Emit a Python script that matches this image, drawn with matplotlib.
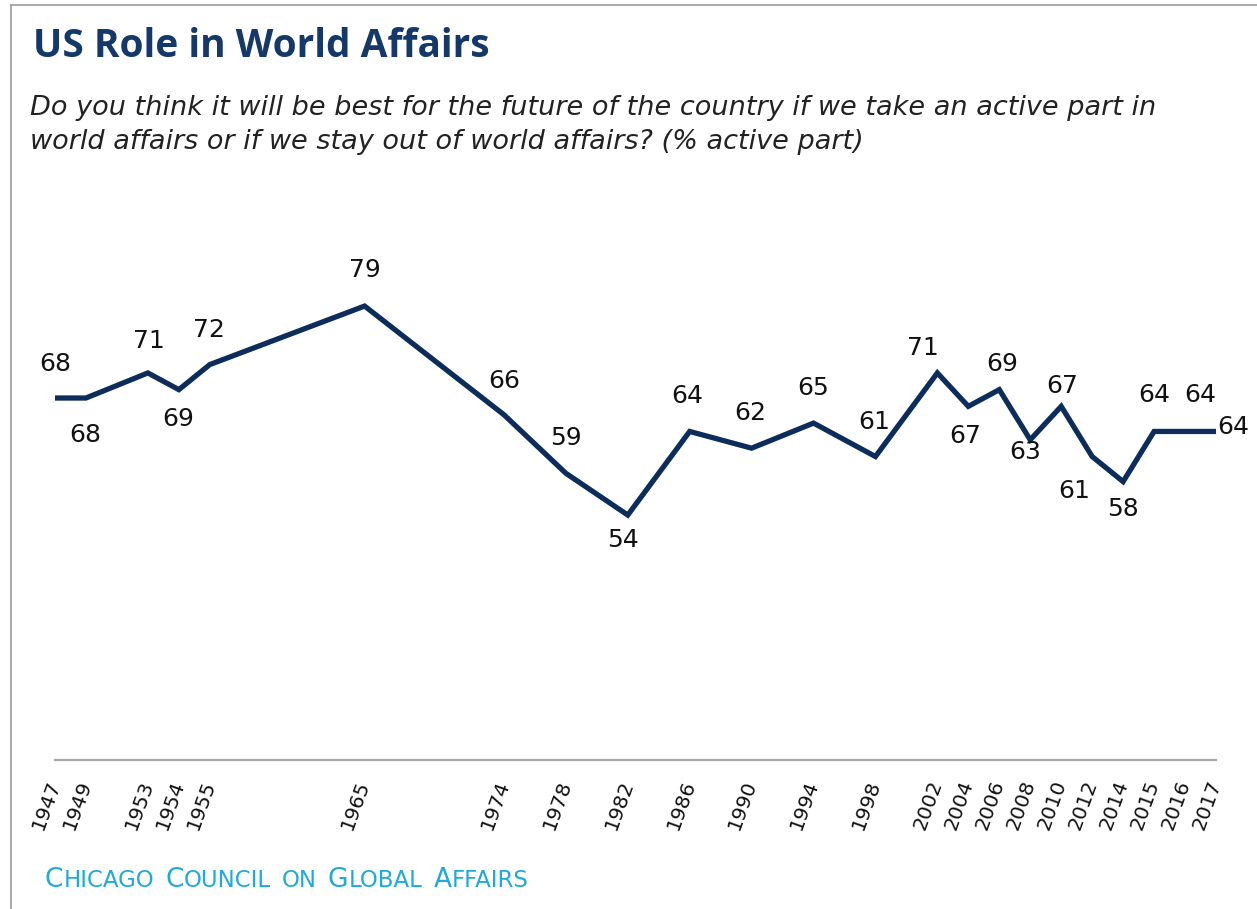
import numpy as np
import matplotlib.pyplot as plt
from matplotlib.offsetbox import TextArea, HPacker, AnnotationBbox
from matplotlib.lines import Line2D

# survey years and share saying "active part" (%)
years = [1947, 1949, 1953, 1954, 1955, 1965, 1974, 1978, 1982, 1986, 1990, 1994,
         1998, 2002, 2004, 2006, 2008, 2010, 2012, 2014, 2015, 2016, 2017]
active_part = [68, 68, 71, 69, 72, 79, 66, 59, 54, 64, 62, 65,
               61, 71, 67, 69, 63, 67, 61, 58, 64, 64, 64]

title = 'US Role in World Affairs'
question = ['Do you think it will be best for the future of the country if we take an active part in',
            'world affairs or if we stay out of world affairs? (% active part)']
source_words = ['Chicago', 'Council', 'on', 'Global', 'Affairs']

# label placement around each point (pixels, dy>0 is up)
label_offsets = [(0, 34), (-1, -37), (1, 32), (-1, -29), (-1, 35), (0, 36), (0, 34),
                 (0, 35), (-5, -25), (-2, 35), (-1, 35), (0, 35), (-1, 35), (-14, 25),
                 (-3, -30), (3, 26), (-5, -12), (1, 20), (-18, -34), (0, -27),
                 (0, 36), (15, 36), (17, 4)]

NAVY = '#0c2d5c'
SANS = 'DejaVu Sans'

# the year axis is stretched where surveys were annual
anchor_years = [1947, 1953, 1955, 2014, 2017]
anchor_pos = [0, 3, 5, 34.5, 37.5]


def fwd(x):
    return np.interp(x, anchor_years, anchor_pos)


def inv(x):
    return np.interp(x, anchor_pos, anchor_years)


W, H = 1257, 909
fig = plt.figure(figsize=(W / 100, H / 100), dpi=100)
ax = fig.add_axes([55 / W, 149 / H, 1161 / W, 543.4 / H])

ax.set_xscale('function', functions=(fwd, inv))
ax.plot(years, active_part, color=NAVY, lw=3.8, solid_joinstyle='miter',
        solid_capstyle='butt', clip_on=False)
ax.set_xlim(1947, 2017)
ax.set_ylim(24.7, 89.7)

for yr, v, (dx, dy) in zip(years, active_part, label_offsets):
    ax.annotate(str(v), (yr, v), xytext=(dx, dy), textcoords='offset pixels',
                ha='center', va='center', fontsize=18, family=SANS,
                color='#111111', annotation_clip=False)

for s in ['top', 'right', 'left']:
    ax.spines[s].set_visible(False)
ax.spines['bottom'].set_color('#a6a6a6')
ax.spines['bottom'].set_linewidth(1.6)
ax.set_yticks([])
ax.set_xticks(years)
ax.set_xticks([], minor=True)
ax.set_xticklabels([str(y) for y in years], rotation=70, ha='right', va='center',
                   rotation_mode='anchor', fontsize=14.5, family=SANS, color='#111111')
ax.tick_params(axis='x', length=0, pad=15)

# header
fig.text(33 / W, 1 - 57 / H, title, fontsize=28, fontweight='bold', family='Open Sans',
         color='#14386a', va='baseline')
fig.text(30 / W, 1 - 115 / H, question[0], fontsize=19.5, style='italic', family=SANS,
         color='#222222', va='baseline')
fig.text(30 / W, 1 - 149 / H, question[1], fontsize=19.5, style='italic', family=SANS,
         color='#222222', va='baseline')

# source line in small caps
SRC = '#1eaadd'
words = []
for w in source_words:
    parts = [TextArea(w[0].upper(), textprops=dict(fontsize=19, family=SANS, color=SRC))] \
        if w[0].isupper() else []
    rest = w[1:] if w[0].isupper() else w
    parts.append(TextArea(rest.upper(), textprops=dict(fontsize=16.5, family=SANS, color=SRC)))
    words.append(HPacker(children=parts, align='baseline', pad=0, sep=0))
src_box = HPacker(children=words, align='baseline', pad=0, sep=8)
fig.add_artist(AnnotationBbox(src_box, (45 / W, 1 - 893 / H), xycoords='figure fraction',
                              box_alignment=(0, 0), frameon=False, pad=0))

# outer frame, top and left
fig.add_artist(Line2D([11 / W, 1], [1 - 5 / H, 1 - 5 / H], color='#9a9a9a', lw=1.2))
fig.add_artist(Line2D([11 / W, 11 / W], [0, 1 - 5 / H], color='#9a9a9a', lw=1.2))

fig.savefig('out.png', dpi=100)
